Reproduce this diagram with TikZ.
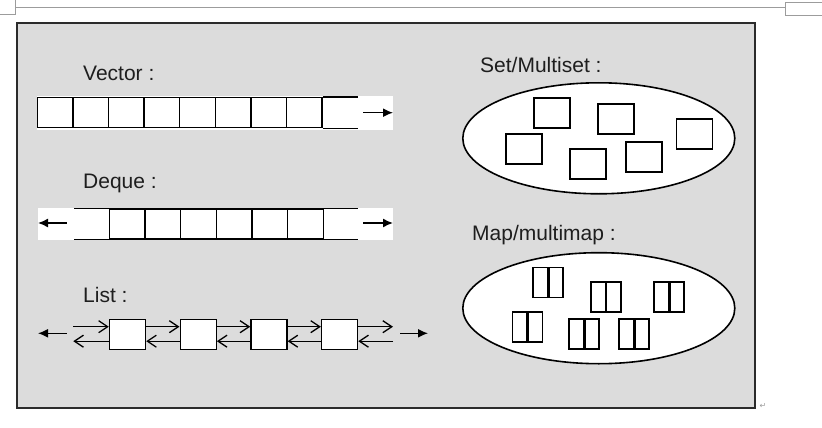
\documentclass[tikz,border=0pt]{standalone}
\usepackage{fontspec}
\setmainfont{Liberation Sans}
\newfontfamily\markfont{DejaVu Sans}
\usetikzlibrary{arrows.meta,shapes.geometric}
\definecolor{panelfill}{HTML}{DCDCDC}
\definecolor{panelstroke}{HTML}{2B2B2B}
\definecolor{pagemark}{HTML}{9C9C9C}
\definecolor{titletext}{HTML}{1E1E1E}
\tikzset{
  cell/.style={
    rectangle,
    draw=black,
    fill=white,
    line width=1.4pt,
    minimum width=35.6pt,
    minimum height=30pt,
    inner sep=0pt
  },
  item/.style={
    rectangle,
    draw=black,
    fill=white,
    line width=1.8pt,
    minimum width=36pt,
    minimum height=30pt,
    inner sep=0pt
  },
  pairitem/.style={
    item,
    minimum width=30pt,
    path picture={\draw[line width=2.6pt]
      (path picture bounding box.north) -- (path picture bounding box.south);}
  },
  container/.style={
    ellipse,
    draw=black,
    fill=white,
    line width=1.6pt,
    minimum width=272pt,
    minimum height=111pt,
    inner sep=0pt
  },
  title/.style={
    anchor=west,
    inner sep=0pt,
    text=titletext,
    font=\fontsize{21}{25}\selectfont
  },
  endarrow/.style={
    -{Latex[length=10pt,width=9pt]},
    line width=1.5pt
  },
  link/.style={
    -{Straight Barb[length=9pt,width=12pt,line width=1.3pt]},
    line width=1.4pt
  }
}

\begin{document}
\begin{tikzpicture}[x=1pt,y=-1pt]
  \useasboundingbox (0,0) rectangle (822,428);

  % Page margin marks.
  \draw[pagemark,line width=0.9pt] (15,7) -- (785,7);
  \draw[pagemark,line width=0.8pt] (0,14) -- (15,14) -- (15,0);
  \draw[pagemark,line width=0.8pt] (822,2) -- (785,2) -- (785,15) -- (822,15);

  % Grey panel.
  \path[fill=panelfill,draw=panelstroke,line width=1.8pt]
    (17,23) rectangle (755,408);
  \node[text=pagemark,font=\markfont\fontsize{8}{8}\selectfont] (ret) at (763,406) {↵};

  \node[title] (vectitle) at (83,73) {Vector :};
  \node[title] (dequetitle) at (83,183) {Deque :};
  \node[title] (listtitle) at (83,295) {List :};
  \node[title] (settitle) at (480,65) {Set/Multiset :};
  \node[title] (maptitle) at (472,235) {Map/multimap :};

  % Vector.
  \fill[white] (37,96) rectangle (393,130);
  \foreach \i in {1,...,8}
    \node[cell] (v\i) at ({37.3+35.6*(\i-0.5)},112.7) {};
  \draw[line width=1.4pt] (v8.north east) -- ++(35,0);
  \draw[line width=1.4pt] (v8.south east) -- ++(35,0);
  \coordinate (vtail) at (363,112.7);
  \coordinate (vhead) at (393,112.7);
  \draw[endarrow] (vtail) -- (vhead);

  % Deque.
  \fill[white] (38,207.7) rectangle (393,240);
  \foreach \i in {1,...,6}
    \node[cell,minimum width=35.7pt] (d\i) at ({109.3+35.67*(\i-0.5)},224) {};
  \draw[line width=1.4pt] (d1.north west) -- ++(-34.3,0);
  \draw[line width=1.4pt] (d1.south west) -- ++(-34.3,0);
  \draw[line width=1.4pt] (d6.north east) -- ++(33.7,0);
  \draw[line width=1.4pt] (d6.south east) -- ++(33.7,0);
  \coordinate (dltail) at (66.7,223);
  \coordinate (dlhead) at (38,223);
  \coordinate (drtail) at (363,223);
  \coordinate (drhead) at (393,223);
  \draw[endarrow] (dltail) -- (dlhead);
  \draw[endarrow] (drtail) -- (drhead);

  % List.
  \foreach \i in {1,...,4}
    \node[cell,minimum width=36pt] (l\i) at ({127.5+70.7*(\i-1)},334.2) {};
  \coordinate (lin) at (73.3,334.2);
  \coordinate (lout) at (393,334.2);
  \draw[link] ([yshift=7.5pt]lin) -- ([yshift=7.5pt]l1.west);
  \draw[link] ([yshift=-7pt]l1.west) -- ([yshift=-7pt]lin);
  \foreach \i/\j in {1/2,2/3,3/4} {
    \draw[link] ([yshift=7.5pt]l\i.east) -- ([yshift=7.5pt]l\j.west);
    \draw[link] ([yshift=-7pt]l\j.west) -- ([yshift=-7pt]l\i.east);
  }
  \draw[link] ([yshift=7.5pt]l4.east) -- ([yshift=7.5pt]lout);
  \draw[link] ([yshift=-7pt]lout) -- ([yshift=-7pt]l4.east);
  \coordinate (lltail) at (66.7,333.3);
  \coordinate (llhead) at (38,333.3);
  \coordinate (lrtail) at (400,333.3);
  \coordinate (lrhead) at (428,333.3);
  \draw[endarrow] (lltail) -- (llhead);
  \draw[endarrow] (lrtail) -- (lrhead);

  % Set / multiset.
  \node[container] (setbag) at (598.8,138.3) {};
  \foreach \n/\x/\y in {s1/552/112.8,s2/616.2/119.3,s3/694.5/134.3,
                         s4/524.2/149.3,s5/587.7/164,s6/644.3/157.2}
    \node[item] (\n) at (\x,\y) {};

  % Map / multimap.
  \node[container] (mapbag) at (598.8,308.2) {};
  \foreach \n/\x/\y in {m1/548.3/282.5,m2/605.8/297.3,m3/669.3/297.3,
                         m4/527.5/327,m5/584.2/334,m6/634.2/334}
    \node[pairitem] (\n) at (\x,\y) {};
\end{tikzpicture}
\end{document}
